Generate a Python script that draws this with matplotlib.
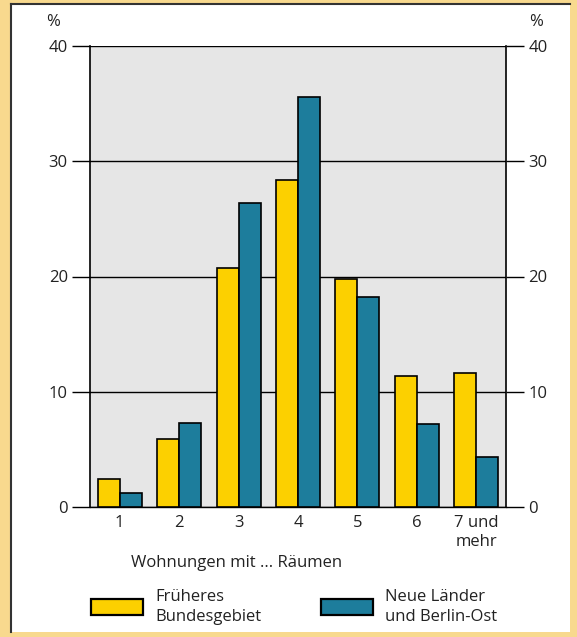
import matplotlib.pyplot as plt
from matplotlib.patches import Rectangle, Patch
from matplotlib.lines import Line2D
import numpy as np

plt.rcParams["font.family"] = ["Open Sans", "DejaVu Sans"]

# Data
categories = ["1", "2", "3", "4", "5", "6", "7 und\nmehr"]
frueheres_bundesgebiet = [2.4, 5.9, 20.7, 28.4, 19.8, 11.4, 11.6]
neue_laender = [1.2, 7.3, 26.4, 35.6, 18.2, 7.2, 4.3]
series_labels = ["Früheres\nBundesgebiet", "Neue Länder\nund Berlin-Ost"]
yticks = [0, 10, 20, 30, 40]

YELLOW = "#fcd000"
BLUE = "#1d7d9c"
TXT = "#222222"
W, H = 577, 637

fig = plt.figure(figsize=(W / 100, H / 100), dpi=100)
fig.patch.set_facecolor("#f8d98e")

# white panel with dark inset line on left/top
fig.patches.append(Rectangle((11 / W, 5 / H), (570 - 11) / W, (633 - 5) / H,
                             transform=fig.transFigure, facecolor="white",
                             edgecolor="none", zorder=-5))
fig.lines.append(Line2D([11 / W, 11 / W], [5 / H, 633 / H], transform=fig.transFigure,
                        color="#333333", lw=1.5, zorder=-4))
fig.lines.append(Line2D([11 / W, 570 / W], [633 / H, 633 / H], transform=fig.transFigure,
                        color="#333333", lw=1.5, zorder=-4))

ax = fig.add_axes([90 / W, (H - 507) / H, 416 / W, 461 / H])
ax.set_zorder(2)
ax.set_facecolor("#e6e6e6")

x = np.arange(1, len(categories) + 1)
bw = 0.37
ax.bar(x - bw / 2, frueheres_bundesgebiet, bw, color=YELLOW, edgecolor="black", lw=1.2, zorder=3)
ax.bar(x + bw / 2, neue_laender, bw, color=BLUE, edgecolor="black", lw=1.2, zorder=3)

ax.set_xlim(0.5, 7.5)
ax.set_ylim(0, 40)
ax.set_yticks(yticks)
ax.set_xticks(x)
ax.set_xticklabels(categories, fontsize=12, color=TXT, linespacing=1.2)
ax.grid(axis="y", color="black", lw=1, zorder=1)
ax.tick_params(axis="y", direction="out", length=13, width=1, left=True, right=True,
               labelleft=True, labelright=True, labelsize=12, labelcolor=TXT, pad=3)
ax.tick_params(axis="x", length=0, pad=6)
for side in ["left", "right"]:
    ax.spines[side].set_linewidth(1.2)
ax.spines["top"].set_visible(False)
ax.spines["bottom"].set_linewidth(1)

fig.text(53 / W, 1 - 22 / H, "%", fontsize=12, ha="center", va="center", color=TXT)
fig.text(536 / W, 1 - 22 / H, "%", fontsize=12, ha="center", va="center", color=TXT)
fig.text(237 / W, 1 - 563 / H, "Wohnungen mit ... Räumen", fontsize=12,
         ha="center", va="center", color=TXT)

handles = [Patch(facecolor=YELLOW, edgecolor="black", lw=1.6),
           Patch(facecolor=BLUE, edgecolor="black", lw=1.6)]
leg = fig.legend(handles, series_labels, loc="center left", bbox_to_anchor=(91 / W, 1 - 607 / H),
                 ncol=2, frameon=False, fontsize=12, handlelength=3.1, handleheight=1.1,
                 handletextpad=0.75, columnspacing=3.6, labelcolor=TXT, borderaxespad=0,
                 borderpad=0)
for t in leg.get_texts():
    t.set_linespacing(1.35)

fig.savefig("out.png", dpi=100, facecolor=fig.get_facecolor())
